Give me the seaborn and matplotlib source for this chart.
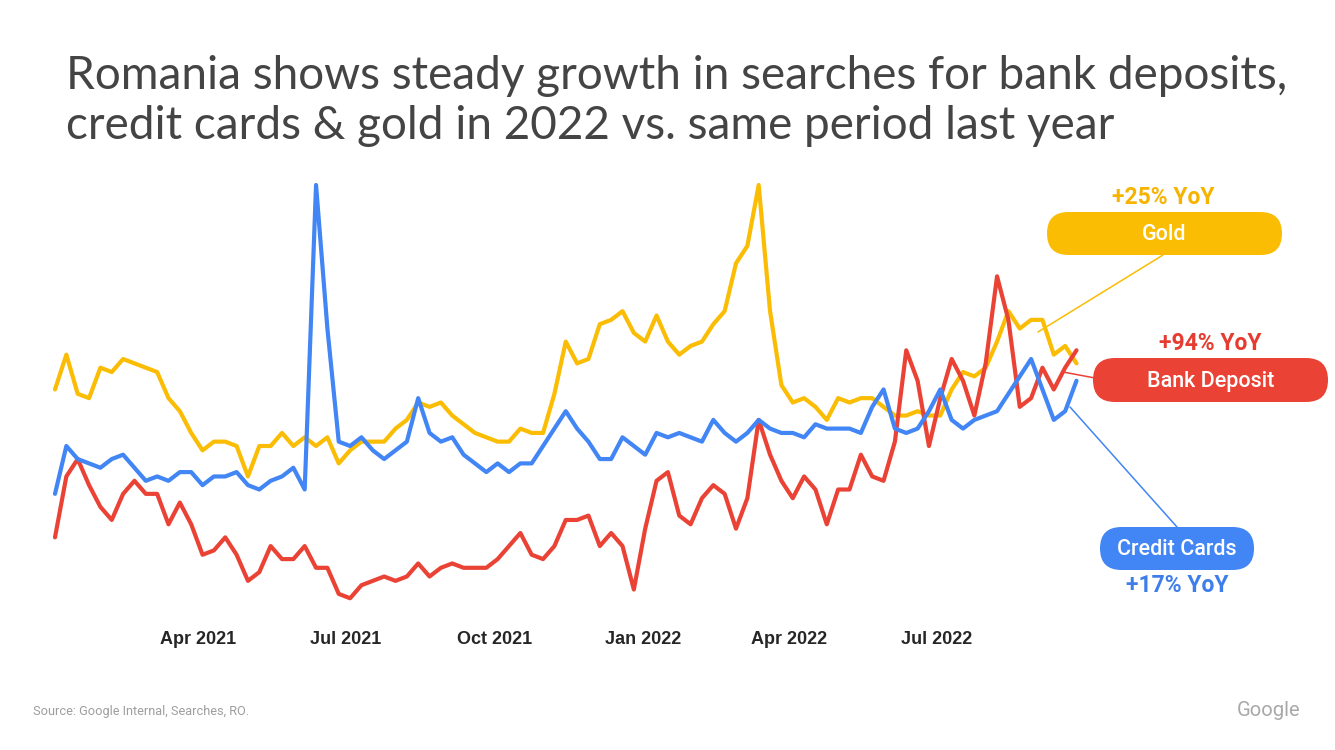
import numpy as np
import pandas as pd
import matplotlib.pyplot as plt
import seaborn as sns
from matplotlib.patches import FancyBboxPatch

# weekly search interest (index, 0-100)
weeks = pd.date_range("2021-01-03", "2022-09-25", freq="7D")

gold = [53, 61, 52, 51, 58, 57, 60, 59, 58, 57, 51, 48, 43, 39, 41, 41, 40, 33, 40, 40,
        43, 40, 42, 40, 42, 36, 39, 41, 41, 41, 44, 46, 50, 49, 50, 47, 45, 43, 42, 41,
        41, 44, 43, 43, 52, 64, 59, 60, 68, 69, 71, 66, 64, 70, 64, 61, 63, 64, 68, 71,
        82, 86, 100, 71, 54, 50, 51, 49, 46, 51, 50, 51, 51, 49, 47, 47, 48, 47, 47, 53,
        57, 56, 58, 64, 71, 67, 69, 69, 61, 63, 59]

credit_cards = [29, 40, 37, 36, 35, 37, 38, 35, 32, 33, 32, 34, 34, 31, 33, 33, 34, 31, 30, 32,
                33, 35, 30, 100, 67, 41, 40, 42, 39, 37, 39, 41, 51, 43, 41, 42, 38, 36, 34, 36,
                34, 36, 36, 40, 44, 48, 44, 41, 37, 37, 42, 40, 38, 43, 42, 43, 42, 41, 46, 43,
                41, 43, 46, 44, 43, 43, 42, 45, 44, 44, 44, 43, 49, 53, 44, 43, 44, 48, 53, 46,
                44, 46, 47, 48, 52, 56, 60, 53, 46, 48, 55]

bank_deposit = [19, 33, 37, 31, 26, 23, 29, 32, 29, 29, 22, 27, 22, 15, 16, 19, 15, 9, 11, 17,
                14, 14, 17, 12, 12, 6, 5, 8, 9, 10, 9, 10, 13, 10, 12, 13, 12, 12, 12, 14,
                17, 20, 15, 14, 17, 23, 23, 24, 17, 20, 17, 7, 21, 32, 34, 24, 22, 28, 31, 29,
                21, 28, 46, 38, 32, 28, 33, 30, 22, 30, 30, 38, 33, 32, 41, 62, 55, 40, 51, 60,
                55, 47, 59, 79, 69, 49, 51, 58, 53, 58, 62]

series_names = ["Gold", "Bank Deposit", "Credit Cards"]
yoy = ["+25% YoY", "+94% YoY", "+17% YoY"]
colors = {"Gold": "#FBBC04", "Bank Deposit": "#EA4335", "Credit Cards": "#4285F4"}

df = pd.DataFrame({"week": weeks, "Gold": gold, "Bank Deposit": bank_deposit,
                   "Credit Cards": credit_cards})
long_df = df.melt(id_vars="week", var_name="term", value_name="interest")

sns.set_style("white")

W, H = 1335, 750
fig = plt.figure(figsize=(W / 100, H / 100), dpi=100)
ax = fig.add_axes([55 / W, 1 - 620 / H, (1076.5 - 55) / W, (620 - 185) / H])

sns.lineplot(data=long_df, x="week", y="interest", hue="term",
             hue_order=["Gold", "Bank Deposit", "Credit Cards"],
             palette=colors, linewidth=3.0, legend=False, ax=ax,
             solid_joinstyle="round", solid_capstyle="round", clip_on=False)

ax.set_xlim(weeks[0], weeks[-1])
ax.set_ylim(0, 100)
ax.set_xlabel("")
ax.set_ylabel("")
ax.set_yticks([])
tick_dates = pd.to_datetime(["2021-04-01", "2021-07-01", "2021-10-01",
                             "2022-01-01", "2022-04-01", "2022-07-01"])
ax.set_xticks(tick_dates)
ax.set_xticklabels([d.strftime("%b %Y") for d in tick_dates],
                   fontfamily="Liberation Sans", fontweight="bold", fontsize=13)
ax.tick_params(axis="x", length=0, pad=8)
sns.despine(ax=ax, left=True, bottom=True)
ax.patch.set_alpha(0)

# overlay in pixel coordinates for titles, pills and connectors
ov = fig.add_axes([0, 0, 1, 1])
ov.set_xlim(0, W)
ov.set_ylim(H, 0)
ov.axis("off")
ov.patch.set_alpha(0)

ov.text(66, 89, "Romania shows steady growth in searches for bank deposits,",
        fontfamily="Lato", fontsize=33, color="#444444", va="baseline")
ov.text(66, 139, "credit cards & gold in 2022 vs. same period last year",
        fontfamily="Lato", fontsize=33, color="#444444", va="baseline")

ov.text(33, 711, "Source: Google Internal, Searches, RO.", fontfamily="Roboto",
        fontsize=9.2, color="#9E9E9E", va="center")
ov.text(1300, 710, "Google", fontfamily="Roboto", fontsize=14.5, color="#A8A8A8",
        va="center", ha="right")

pills = {
    "Gold": (1047, 212, 1282, 255),
    "Bank Deposit": (1093, 358, 1328, 402),
    "Credit Cards": (1100, 527, 1254, 570),
}
yoy_pos = {"Gold": (1163, 197), "Bank Deposit": (1210, 343), "Credit Cards": (1177, 586)}
yoy_col = {"Gold": "#F6B400", "Bank Deposit": "#E53B30", "Credit Cards": "#3D7EEA"}
connectors = {
    "Gold": ((1038, 332), (1163, 255)),
    "Bank Deposit": ((1063, 372), (1095, 378)),
    "Credit Cards": ((1070, 407), (1177, 527)),
}

for name, label in zip(series_names, yoy):
    (a, b), (c, d) = connectors[name]
    ov.plot([a, c], [b, d], color=colors[name], linewidth=1.1, zorder=2)
    x0, y0, x1, y1 = pills[name]
    box = FancyBboxPatch((x0, y0), x1 - x0, y1 - y0,
                         boxstyle=f"round,pad=0,rounding_size={(y1 - y0) / 2}",
                         facecolor=colors[name], edgecolor="none", zorder=3)
    ov.add_patch(box)
    ov.text((x0 + x1) / 2, (y0 + y1) / 2 + 1, name, color="white", fontfamily="Roboto",
            fontweight="medium", fontsize=15.5, ha="center", va="center", zorder=4)
    tx, ty = yoy_pos[name]
    ov.text(tx, ty, label, color=yoy_col[name], fontfamily="Roboto", fontweight="bold",
            fontsize=16.5, ha="center", va="center", zorder=4)

fig.savefig("out.png", dpi=100)
